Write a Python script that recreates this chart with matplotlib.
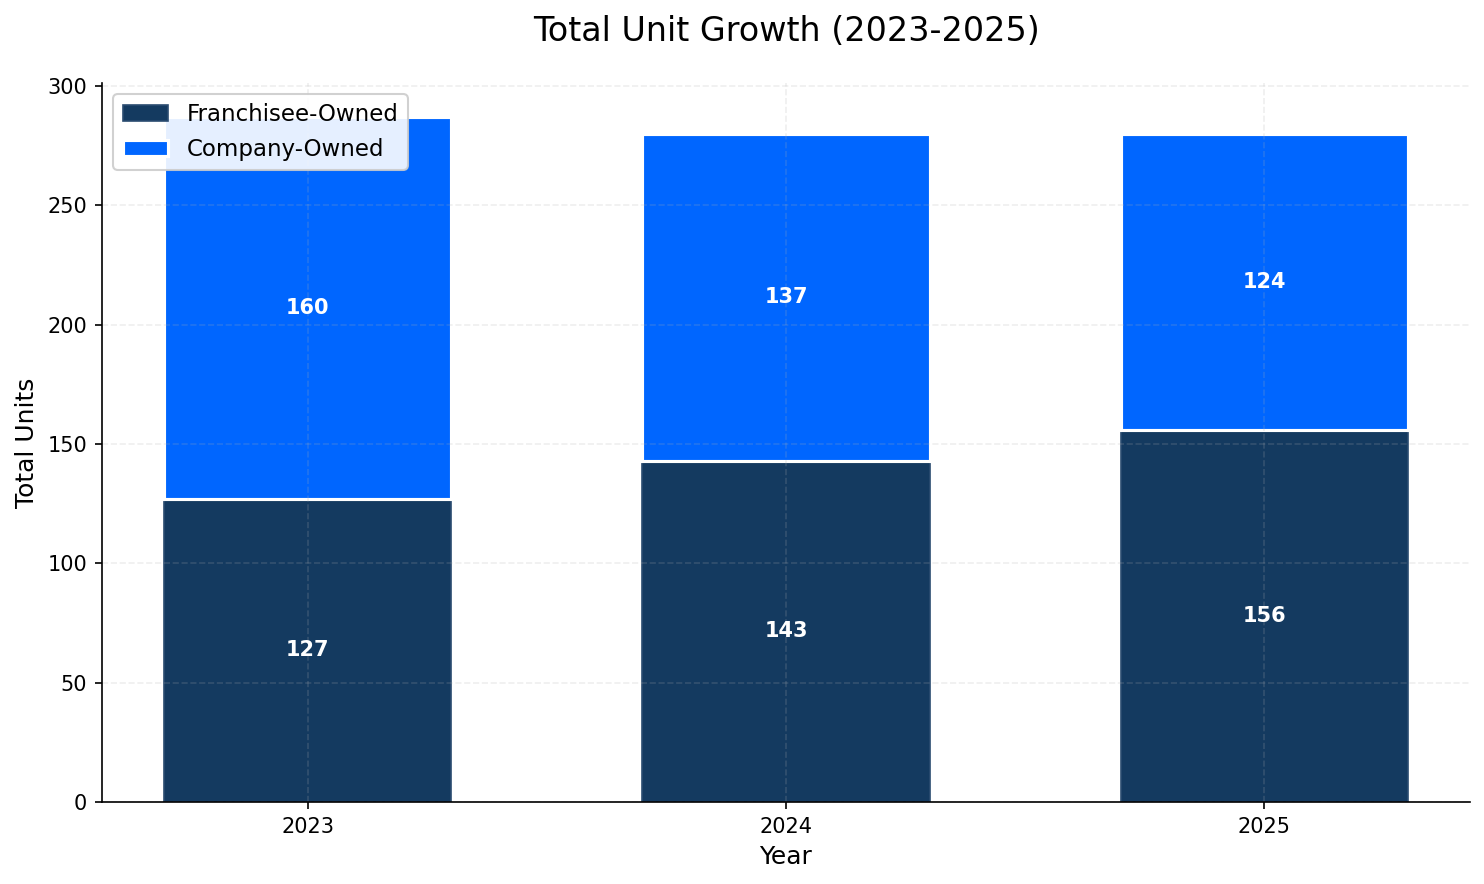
import matplotlib.pyplot as plt
import numpy as np

years = ["2023", "2024", "2025"]
franchisee_owned = [127, 143, 156]
company_owned = [160, 137, 124]

color_franchisee = "#143A60"
color_company = "#0066FF"

fig, ax = plt.subplots(figsize=(1484 / 150, 884 / 150), dpi=150)

x = np.arange(len(years))
width = 0.6

bars_f = ax.bar(x, franchisee_owned, width, label="Franchisee-Owned",
                color=color_franchisee, edgecolor="#2A4B70", linewidth=0.8)
bars_c = ax.bar(x, company_owned, width, bottom=franchisee_owned,
                label="Company-Owned", color=color_company,
                edgecolor="white", linewidth=1.5)

# --- Valores dentro das barras ---
for i in range(len(years)):
    ax.text(x[i], franchisee_owned[i] / 2, str(franchisee_owned[i]),
            ha="center", va="center", color="white", fontweight="bold", fontsize=10)
    ax.text(x[i], franchisee_owned[i] + company_owned[i] / 2, str(company_owned[i]),
            ha="center", va="center", color="white", fontweight="bold", fontsize=10)

ax.set_title("Total Unit Growth (2023-2025)", fontsize=16, pad=20)
ax.set_xlabel("Year", fontsize=12)
ax.set_ylabel("Total Units", fontsize=12)
ax.set_xticks(x)
ax.set_xticklabels(years)

ax.grid(True, linestyle="--", alpha=0.2, linewidth=0.8)
ax.spines["top"].set_visible(False)
ax.spines["right"].set_visible(False)
ax.legend(loc="upper left", fontsize=11, framealpha=0.9)

plt.subplots_adjust(left=0.0687, right=0.9906, bottom=0.0928, top=0.9063)
plt.savefig("out.png", dpi=150)
